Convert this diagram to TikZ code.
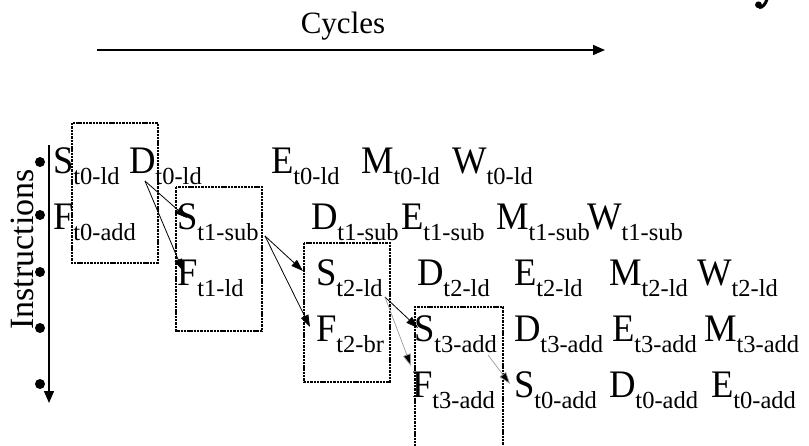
\documentclass[tikz,border=0pt]{standalone}
\usepackage{fontspec}
\setmainfont{Liberation Serif}
\usetikzlibrary{arrows.meta}
% pipeline stage: large letter with a lowered tag
\newcommand{\stg}[2]{\scalebox{0.94}[1]{\fontsize{39}{42}\selectfont #1}\raisebox{-11.5pt}{\fontsize{24.5}{26}\selectfont #2}}
\tikzset{
  stage/.style={anchor=base west, inner sep=0pt, outer sep=0pt},
  axis/.style={line width=1.5pt, -{Triangle[length=12pt,width=10pt]}},
  dep/.style={line width=0.8pt, -{Triangle[length=12pt,width=8pt]}},
  deplight/.style={line width=0.7pt, draw=black!40, -{Triangle[length=12pt,width=8pt,fill=black]}},
  group/.style={line width=2.5pt, dash pattern=on 2.4pt off 0.9pt},
  bullet/.style={circle, fill=black, inner sep=0pt, minimum size=10pt},
}
\begin{document}
\begin{tikzpicture}[x=1pt, y=-1pt]
\useasboundingbox (0,0) rectangle (809,445);

% hooked tail of a large heading letter, cut by the top edge
\fill (758.5,4.8) circle (3.4pt);
\draw[line width=3pt] (759,7.6) .. controls (763,7.6) and (765.5,4) .. (767.5,-2);

% cycle axis
\node[anchor=base, inner sep=0pt] (cyc) at (343,33) {\fontsize{31}{34}\selectfont Cycles};
\coordinate (cx0) at (97,50);
\coordinate (cx1) at (605,50);
\draw[axis] (cx0) -- (cx1);

% instruction axis
\node[rotate=90, anchor=base, inner sep=0pt] (ins) at (33,249.5) {\fontsize{34}{36}\selectfont Instructions};
\coordinate (iy0) at (49,145);
\coordinate (iy1) at (49,403);
\draw[axis] (iy0) -- (iy1);
\foreach \y [count=\i] in {162,215,272,328,384}
  \node[bullet] (b\i) at (40,\y) {};

% stages, one row per instruction
\node[stage] (s0ld)  at (53,173)  {\stg{S}{t0-ld}};
\node[stage] (d0ld)  at (129,173) {\stg{D}{t0-ld}};
\node[stage] (e0ld)  at (271,173) {\stg{E}{t0-ld}};
\node[stage] (m0ld)  at (361,173) {\stg{M}{t0-ld}};
\node[stage] (w0ld)  at (452,173) {\stg{W}{t0-ld}};

\node[stage] (f0add) at (53,229)  {\stg{F}{t0-add}};
\node[stage] (s1sub) at (177,229) {\stg{S}{t1-sub}};
\node[stage] (d1sub) at (311,229) {\stg{D}{t1-sub}};
\node[stage] (e1sub) at (401,229) {\stg{E}{t1-sub}};
\node[stage] (m1sub) at (496,229) {\stg{M}{t1-sub}};
\node[stage] (w1sub) at (587,229) {\stg{W}{t1-sub}};

\node[stage] (f1ld)  at (177,285) {\stg{F}{t1-ld}};
\node[stage] (s2ld)  at (316,285) {\stg{S}{t2-ld}};
\node[stage] (d2ld)  at (417,285) {\stg{D}{t2-ld}};
\node[stage] (e2ld)  at (514,285) {\stg{E}{t2-ld}};
\node[stage] (m2ld)  at (609,285) {\stg{M}{t2-ld}};
\node[stage] (w2ld)  at (697,285) {\stg{W}{t2-ld}};

\node[stage] (f2br)  at (316,341) {\stg{F}{t2-br}};
\node[stage] (s3add) at (414,341) {\stg{S}{t3-add}};
\node[stage] (d3add) at (514,341) {\stg{D}{t3-add}};
\node[stage] (e3add) at (612,341) {\stg{E}{t3-add}};
\node[stage] (m3add) at (704,341) {\stg{M}{t3-add}};

\node[stage] (f3add) at (412,397) {\stg{F}{t3-add}};
\node[stage] (s0add) at (514,397) {\stg{S}{t0-add}};
\node[stage] (d0add) at (609,397) {\stg{D}{t0-add}};
\node[stage] (e0add) at (711,397) {\stg{E}{t0-add}};

% groups of stages issued together
\draw[group] (72,123) rectangle (158,263);
\draw[group] (176,187) rectangle (262,331);
\draw[group] (304,243) rectangle (390,382);
\draw[group] (415,450) |- (503,307) -- (503,450);

% dependence arrows
\coordinate (p1) at (145,181);
\coordinate (q1) at (187,218);
\coordinate (r1) at (183,271);
\coordinate (p2) at (265,236);
\coordinate (q2) at (303,271);
\coordinate (r2) at (310,327);
\coordinate (p3) at (385,297);
\coordinate (q3) at (418,328);
\coordinate (r3) at (411,366);
\coordinate (p4) at (488,355);
\coordinate (q4) at (510,384);

\draw[dep] (p1) -- (q1);
\draw[dep] (p1) -- (r1);
\draw[dep] (p2) -- (q2);
\draw[dep] (p2) -- (r2);
\draw[dep] (p3) -- (q3);
\draw[deplight] (p3) -- (r3);
\draw[deplight] (p4) -- (q4);
\end{tikzpicture}
\end{document}
